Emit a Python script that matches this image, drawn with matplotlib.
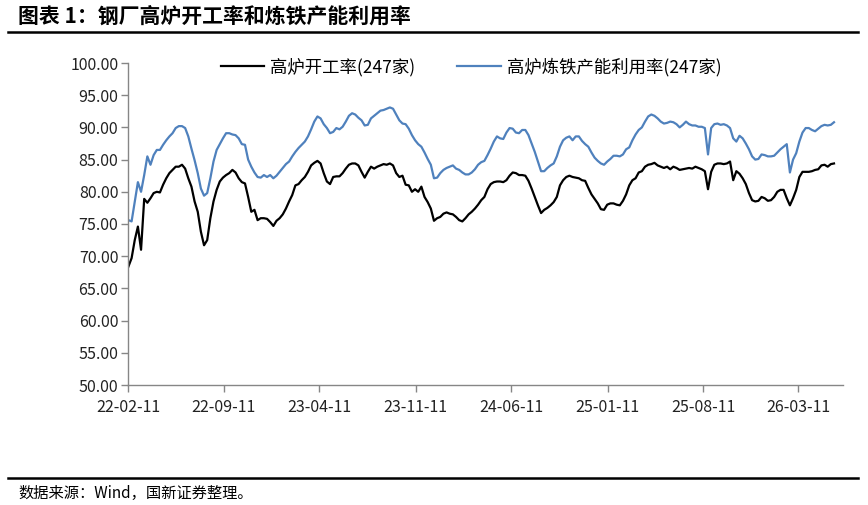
import matplotlib
matplotlib.use("Agg")
import matplotlib.pyplot as plt
from matplotlib.lines import Line2D
import pandas as pd

plt.rcParams['font.family'] = ['Noto Sans CJK SC', 'DejaVu Sans']

title = "图表 1：钢厂高炉开工率和炼铁产能利用率"
source = "数据来源：Wind，国新证券整理。"
series_names = ["高炉开工率(247家)", "高炉炼铁产能利用率(247家)"]
start_date = "2022-02-11"

bf_operating = [
    68.4, 69.7, 72.5, 74.6, 71.0, 78.9, 78.3, 79.0, 79.8, 80.0, 79.9, 81.1, 82.1, 82.9, 83.4, 83.9, 83.9, 84.2, 83.6, 82.1,
    80.8, 78.5, 76.9, 73.8, 71.7, 72.5, 75.9, 78.5, 80.3, 81.6, 82.2, 82.6, 82.9, 83.4, 83.0, 82.1, 81.5,
    81.3, 79.2, 76.9, 77.2, 75.6, 75.9, 75.9, 75.8, 75.3, 74.7, 75.5, 75.9, 76.5, 77.4, 78.5, 79.5, 81.0, 81.2, 81.8,
    82.3, 83.1, 84.1, 84.5, 84.8, 84.4, 82.9, 81.6, 81.2, 82.3, 82.4, 82.4, 82.9, 83.6, 84.2, 84.4, 84.4, 84.1, 83.1,
    82.2, 83.1, 83.9, 83.6, 83.9, 84.1, 84.3, 84.2, 84.4, 84.1, 82.9, 82.3, 82.5, 81.1, 81.0, 80.0, 80.4, 80.0, 80.8,
    79.2, 78.4, 77.4, 75.5, 75.9, 76.1, 76.6, 76.8, 76.6, 76.5, 76.1, 75.6, 75.4, 75.9, 76.5, 76.9, 77.4, 78.0, 78.7,
    79.2, 80.4, 81.2, 81.5, 81.6, 81.6, 81.5, 81.8, 82.5, 83.0, 82.9, 82.6, 82.6, 82.5, 81.7, 80.5, 79.2, 77.9, 76.7,
    77.2, 77.5, 77.9, 78.4, 79.2, 81.0, 81.8, 82.3, 82.5, 82.3, 82.2, 82.1, 81.8, 81.7, 80.6, 79.6, 78.9, 78.2, 77.3,
    77.2, 78.0, 78.2, 78.2, 78.0, 77.9, 78.6, 79.6, 81.0, 81.8, 82.1, 83.0, 83.2, 83.9, 84.2, 84.3, 84.5, 84.1, 83.9,
    83.7, 83.9, 83.5, 83.9, 83.7, 83.4, 83.5, 83.6, 83.7, 83.6, 83.9, 83.7, 83.5, 83.2, 80.4, 83.1, 84.2, 84.4, 84.4,
    84.3, 84.4, 84.7, 81.8, 83.2, 82.8, 82.1, 81.2, 79.8, 78.7, 78.5, 78.6, 79.2, 79.0, 78.6, 78.7, 79.2, 80.0, 80.3,
    80.3, 79.0, 77.9, 79.0, 80.3, 82.3, 83.1, 83.1, 83.1, 83.2, 83.4, 83.5, 84.1, 84.2, 83.9, 84.3, 84.4,
]

ironmaking_util = [
    75.6, 75.4, 78.5, 81.5, 80.0, 82.6, 85.5, 84.2, 85.7, 86.5, 86.5, 87.3, 88.0, 88.6, 89.1, 89.9, 90.2, 90.2, 89.9, 88.6,
    86.7, 84.9, 82.9, 80.5, 79.4, 79.8, 82.1, 84.7, 86.5, 87.4, 88.3, 89.1, 89.1, 88.9, 88.8, 88.3, 87.4,
    87.3, 85.0, 83.9, 83.0, 82.3, 82.2, 82.6, 82.3, 82.6, 82.1, 82.5, 83.1, 83.7, 84.3, 84.7, 85.5, 86.2, 86.8, 87.3,
    87.8, 88.6, 89.7, 90.9, 91.7, 91.4, 90.5, 89.9, 89.1, 89.3, 89.9, 89.7, 90.1, 90.9, 91.8, 92.2, 92.0, 91.5, 91.1,
    90.3, 90.4, 91.4, 91.8, 92.2, 92.6, 92.7, 92.9, 93.1, 92.9, 92.0, 91.1, 90.6, 90.5, 89.8, 88.8, 88.0, 87.4, 87.0,
    86.1, 85.1, 84.2, 82.1, 82.2, 82.9, 83.4, 83.7, 83.9, 84.1, 83.6, 83.4, 83.0, 82.7, 82.7, 83.0, 83.5, 84.2, 84.6,
    84.8, 85.7, 86.7, 87.8, 88.6, 88.3, 88.2, 89.2, 89.9, 89.8, 89.2, 89.1, 89.6, 89.6, 88.8, 87.5, 86.2, 84.7, 83.2,
    83.2, 83.7, 84.1, 84.4, 85.5, 87.0, 88.0, 88.4, 88.6, 88.0, 88.6, 88.6, 87.9, 87.4, 87.0, 86.1, 85.3, 84.8, 84.4,
    84.2, 84.7, 85.1, 85.6, 85.6, 85.5, 85.8, 86.6, 86.9, 88.0, 88.9, 89.6, 90.0, 90.9, 91.7, 92.0, 91.8, 91.4, 90.9,
    90.6, 90.7, 90.9, 90.8, 90.5, 90.0, 90.4, 90.9, 90.5, 90.3, 90.3, 90.1, 90.1, 89.9, 85.8, 89.9, 90.5, 90.6, 90.4,
    90.5, 90.3, 89.9, 88.3, 87.8, 88.7, 88.3, 87.5, 86.6, 85.5, 85.0, 85.1, 85.8, 85.7, 85.5, 85.5, 85.6, 86.1, 86.6,
    87.0, 87.4, 83.0, 85.0, 86.0, 87.8, 89.2, 89.9, 89.9, 89.6, 89.4, 89.8, 90.2, 90.4, 90.3, 90.4, 90.8,
]

x_tick_labels = ["22-02-11", "22-09-11", "23-04-11", "23-11-11", "24-06-11", "25-01-11", "25-08-11", "26-03-11"]
y_ticks = [50, 55, 60, 65, 70, 75, 80, 85, 90, 95, 100]

dates = pd.date_range(start_date, periods=len(bf_operating), freq="7D")
tick_dates = [pd.Timestamp("20" + t) for t in x_tick_labels]

fig = plt.figure(figsize=(8.68, 5.05), dpi=100)
ax = fig.add_axes([128 / 868, 1 - 385 / 505, (843 - 128) / 868, (385 - 63) / 505])

ax.plot(dates, bf_operating, color="black", lw=1.6, label=series_names[0])
ax.plot(dates[:len(ironmaking_util)], ironmaking_util, color="#4F81BD", lw=1.6, label=series_names[1])

ax.set_ylim(50, 100)
ax.set_yticks(y_ticks)
ax.set_yticklabels([f"{v:.2f}" for v in y_ticks])
ax.set_xlim(pd.Timestamp("2022-02-10"), pd.Timestamp("2026-06-18"))
ax.set_xticks(tick_dates)
ax.set_xticklabels(x_tick_labels)

for s in ["top", "right"]:
    ax.spines[s].set_visible(False)
for s in ["left", "bottom"]:
    ax.spines[s].set_color("#868686")
    ax.spines[s].set_linewidth(1.0)
ax.tick_params(axis="both", direction="out", length=5, width=1.0, color="#868686",
               labelsize=11.5, labelcolor="#222222")
ax.tick_params(axis="x", pad=5)
ax.tick_params(axis="y", pad=2)

leg = ax.legend(loc="center", bbox_to_anchor=(0.480, 0.988), ncol=2, frameon=False,
                fontsize=12.5, handlelength=2.5, columnspacing=2.4, handletextpad=0.35,
                borderaxespad=0, borderpad=0)

fig.text(18 / 868, 1 - 16 / 505, title, fontsize=15, fontweight="bold", ha="left", va="center",
         color="black", style="italic")
fig.add_artist(Line2D([8 / 868, 858 / 868], [1 - 32 / 505, 1 - 32 / 505], color="black", lw=1.8))
fig.add_artist(Line2D([8 / 868, 858 / 868], [1 - 478 / 505, 1 - 478 / 505], color="black", lw=1.8))
fig.text(18 / 868, 1 - 493 / 505, source, fontsize=11, ha="left", va="center", color="black")

fig.savefig("out.png", dpi=100)
